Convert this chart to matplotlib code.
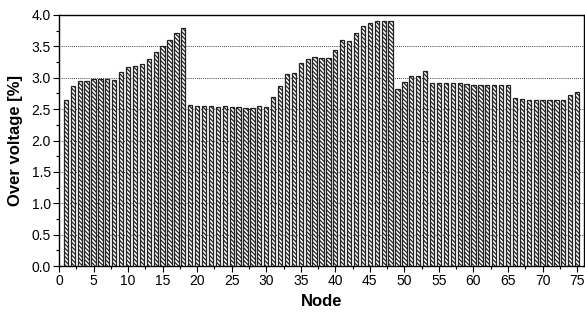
import matplotlib

matplotlib.use("Agg")
import matplotlib.pyplot as plt
from matplotlib.ticker import MultipleLocator

plt.rcParams["font.family"] = ["Liberation Sans", "DejaVu Sans"]
plt.rcParams["hatch.linewidth"] = 0.9

# over voltage per node
nodes = list(range(1, 76))
over_voltage = [
    2.65, 2.87, 2.95, 2.95, 2.98, 2.98, 2.98, 2.96, 3.09, 3.17,
    3.19, 3.22, 3.30, 3.41, 3.50, 3.60, 3.72, 3.79, 2.56, 2.545,
    2.545, 2.545, 2.53, 2.545, 2.53, 2.53, 2.52, 2.52, 2.545, 2.53,
    2.69, 2.87, 3.06, 3.08, 3.24, 3.30, 3.33, 3.31, 3.31, 3.45,
    3.60, 3.58, 3.72, 3.83, 3.88, 3.91, 3.91, 3.91, 2.82, 2.94,
    3.02, 3.02, 3.10, 2.92, 2.92, 2.92, 2.92, 2.91, 2.90, 2.89,
    2.89, 2.88, 2.89, 2.89, 2.88, 2.67, 2.66, 2.65, 2.65, 2.65,
    2.65, 2.65, 2.65, 2.72, 2.78,
]

fig = plt.figure(figsize=(5.85, 3.13), dpi=100)
ax = fig.add_axes([59 / 585, 1 - 266 / 313, 525 / 585, 251 / 313])

ax.bar(nodes, over_voltage, width=0.62, color="white", edgecolor="#222222",
       linewidth=0.9, hatch="\\\\\\\\\\\\\\\\", zorder=3)

ax.set_xlim(0, 76)
ax.set_ylim(0, 4.0)
ax.xaxis.set_major_locator(MultipleLocator(5))
ax.xaxis.set_minor_locator(MultipleLocator(2.5))
ax.yaxis.set_major_locator(MultipleLocator(0.5))
ax.yaxis.set_minor_locator(MultipleLocator(0.25))
ax.yaxis.set_major_formatter(lambda v, p: f"{v:.1f}")
ax.grid(axis="y", which="major", linestyle=(0, (1, 1.5)), color="black",
        linewidth=0.6, zorder=1)
ax.tick_params(which="major", length=4, width=0.8, labelsize=10, pad=2)
ax.tick_params(which="minor", length=2.5, width=0.8)

for s in ax.spines.values():
    s.set_linewidth(1.0)

ax.set_xlabel("Node", fontsize=12, fontweight="bold", labelpad=4)
ax.set_ylabel("Over voltage [%]", fontsize=12, fontweight="bold", labelpad=6)

plt.savefig("out.png", dpi=100)
plt.close(fig)
